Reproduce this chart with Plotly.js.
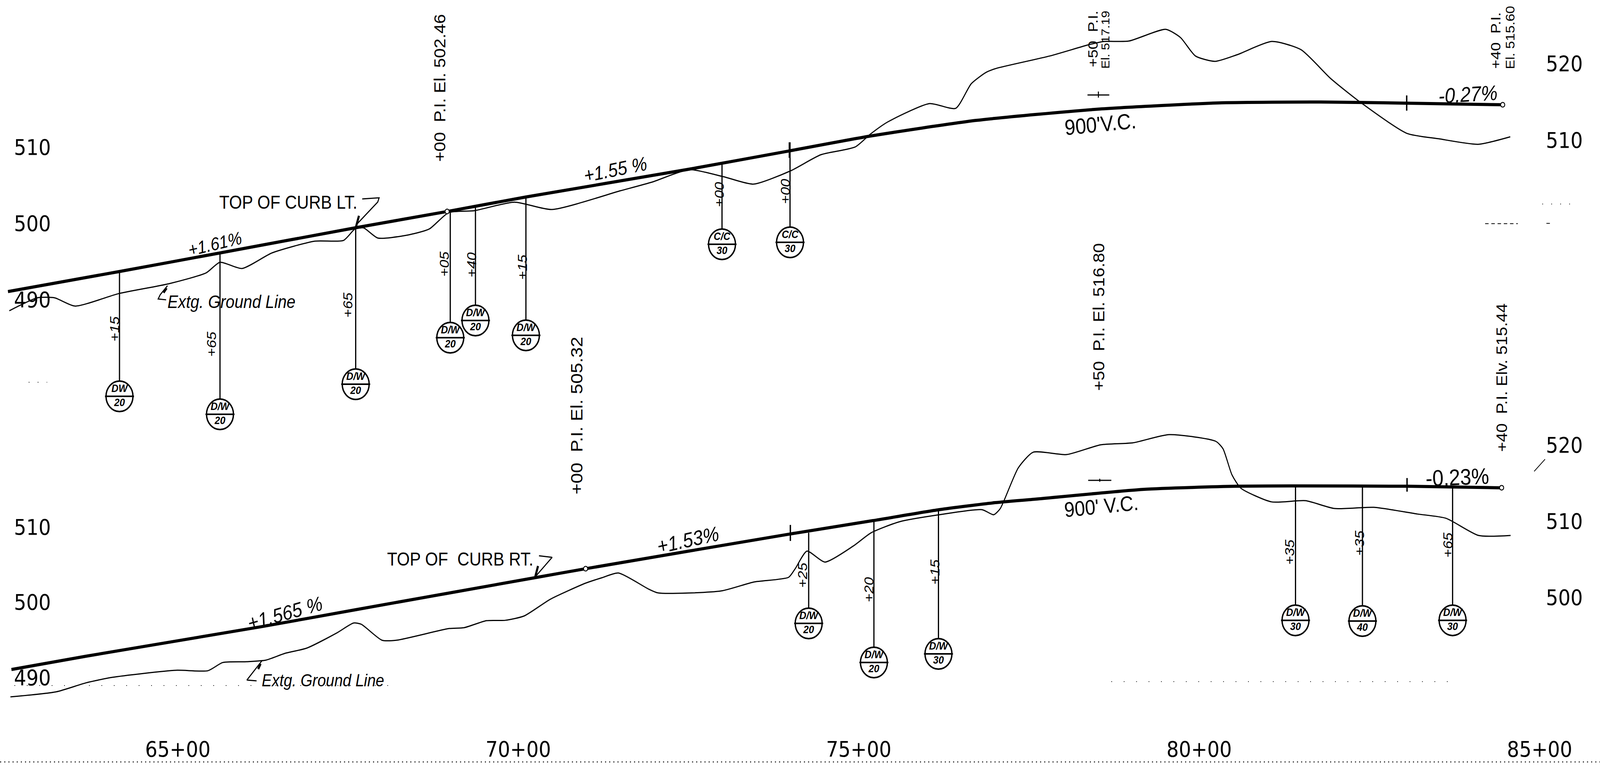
<!DOCTYPE html>
<html>
<head>
<meta charset="utf-8">
<script src="https://cdn.plot.ly/plotly-3.0.1.min.js"></script>
<style>html,body{margin:0;padding:0;background:#fff;overflow:hidden}#chart{width:4634px;height:1965px;transform-origin:0 0}</style>
</head>
<body>
<div id="chart"></div>
<script>
// Stations are in hundreds of feet (65 = 65+00); elevations in feet.
const stationTicks = [65, 70, 75, 80, 85];
const stationLabels = ['65+00', '70+00', '75+00', '80+00', '85+00'];
const leftElevTicks = [490, 500, 510];
const rightTopTicks = [510, 520];
const rightBottomTicks = [500, 510, 520];

// TOP OF CURB LT.
const gradeLtS = [62.505,64.133,65.624,67.601,68.955,70.112,72.470,73.981,75.172,76.724,78.535,80.340,81.785,83.048,84.458];
const gradeLtE = [491.05,493.67,496.13,499.41,501.56,503.46,507.05,509.51,511.46,513.51,515.0,515.82,515.92,515.77,515.56];
const groundLtS = [62.525,62.936,63.190,63.489,64.133,64.868,65.416,65.619,65.943,66.384,67.013,67.434,67.601,67.728,67.936,68.357,68.692,68.976,69.356,69.944,70.492,71.501,71.963,72.510,73.012,73.453,74.001,74.442,74.949,75.172,75.426,76.040,76.425,76.653,76.871,77.018,77.809,78.387,78.606,78.966,79.508,79.726,79.944,80.233,80.558,81.065,81.496,81.932,82.363,83.048,83.519,84.097,84.569];
const groundLtE = [488.54,490.23,490.23,489.15,490.79,492.08,493.51,494.90,494.08,496.13,497.67,497.77,499.26,499.41,498.08,498.44,499.26,501.41,501.67,502.79,501.82,504.28,505.41,507.05,506.13,505.15,506.90,509.0,510.03,511.72,513.31,515.72,515.10,518.33,519.82,520.33,521.97,523.46,523.87,523.92,525.46,524.38,521.97,521.26,522.13,523.87,522.79,519.0,515.92,511.82,511.10,510.38,511.36];

// TOP OF CURB RT.
const gradeRtS = [62.556,63.651,66.237,67.612,70.248,70.989,73.996,75.208,76.182,77.003,77.602,79.189,80.563,81.405,83.043,84.442];
const gradeRtE = [491.04,492.81,496.75,498.99,503.25,504.44,509.06,510.83,512.29,513.22,513.69,514.99,515.40,515.45,515.40,515.19];
const groundRtS = [62.541,63.215,63.651,64.037,64.970,65.441,65.659,66.014,66.293,66.567,66.897,67.338,67.581,67.693,67.997,68.215,68.986,69.204,69.533,69.807,70.086,70.472,70.989,71.232,71.471,71.912,72.054,72.977,73.463,73.971,74.067,74.239,74.503,74.919,75.183,75.598,76.182,76.810,76.983,77.079,77.343,77.561,78.053,78.555,79.026,79.559,80.243,80.350,80.482,80.613,81.065,81.562,81.988,82.566,83.205,83.626,84.103,84.574];
const groundRtE = [487.40,488.08,489.27,490.0,490.94,490.88,491.97,492.08,492.29,493.17,493.90,495.92,497.22,497.06,494.94,494.94,496.49,496.60,497.53,497.58,498.16,500.39,502.52,503.25,503.87,501.74,501.22,501.48,502.68,503.30,504.44,506.78,505.32,507.45,509.22,510.68,511.61,512.29,511.61,512.44,517.84,519.92,519.61,520.91,521.17,522.26,521.38,520.39,516.91,515.14,513.32,513.48,512.44,512.60,511.71,511.14,508.86,508.86];

// Drainage structure tags
const tagLtS = [64.143,65.619,67.612,69.001,69.371,70.112,72.992,73.991];
const tagLtE = [477.31,474.95,478.90,485.0,487.26,485.31,497.26,497.51];
const tagLtTop = [493.67,496.13,499.41,501.56,502.13,503.46,508.03,510.64];
const tagLtText = ['DW<br>20','D/W<br>20','D/W<br>20','D/W<br>20','D/W<br>20','D/W<br>20','C/C<br>30','C/C<br>30'];
const tagRtS = [74.265,75.223,76.171,81.415,82.398,83.722];
const tagRtE = [497.17,491.97,493.12,497.58,497.48,497.58];
const tagRtTop = [509.22,510.83,512.29,515.45,515.45,515.30];
const tagRtText = ['D/W<br>20','D/W<br>20','D/W<br>30','D/W<br>30','D/W<br>40','D/W<br>30'];

// Grade break ticks, vertical curve points
const tickLtS = [73.981,73.981,null,83.048,83.048];
const tickLtE = [510.64,508.6,null,516.79,514.79];
const tickRtS = [73.996,73.996,null,83.053,83.053];
const tickRtE = [510.26,508.13,null,516.49,514.68];
const pviLtS = [78.36,78.68,null,78.52,78.52];
const pviLtE = [516.85,516.85,null,516.5,517.3];
const pviRtS = [78.37,78.71,null,78.54,78.54];
const pviRtE = [516.18,516.18,null,516.0,516.4];
const bvcLtS = [68.955]; const bvcLtE = [501.56];
const bvcRtS = [70.989]; const bvcRtE = [504.44];
const evcTopS = [84.458]; const evcTopE = [514.59];
const evcBotS = [84.442]; const evcBotE = [514.36];

// Callouts
const calloutLtS = [67.708,67.956,67.936,67.622,null,64.848,64.741,64.711,64.828];
const calloutLtE = [503.21,503.36,502.80,499.83,null,491.82,490.64,490.08,489.97];
const calloutRtS = [70.304,70.497,70.248,null,66.237,66.014,66.156];
const calloutRtE = [506.16,505.95,503.35,null,492.23,489.64,489.53];
const arrowLtS = [67.66,67.615,null,64.835,64.79];
const arrowLtE = [501.0,499.5,null,491.5,490.9];
const arrowRtS = [70.29,70.25,null,66.215,66.18];
const arrowRtE = [504.8,503.4,null,491.8,491.1];

// Scan specks
const speckBaseS = [62.39,85.89]; const speckBaseE = [0.9,0.9];
const speckRowS = [62.6,68.2,null,78.71,83.73]; const speckRowE = [488.91,488.91,null,489.43,489.43];
const speckTopS = [62.81,63.08,null,85.04,85.47]; const speckTopE = [479.15,479.15,null,502.54,502.54];
const dashTopS = [84.20,84.68,null,85.10,85.18]; const dashTopE = [499.97,499.97,null,500.0,500.0];
const slashS = [84.92,85.08]; const slashE = [517.38,518.99];

const INK = '#000';
function line(x,y,yaxis,width,extra){
  return Object.assign({type:'scatter',mode:'lines',x,y,yaxis,hoverinfo:'skip',showlegend:false,
    line:{color:INK,width}},extra||{});
}
function leaders(s,top,bot){
  const xs=[],ys=[];
  s.forEach((v,i)=>{xs.push(v,v,null);ys.push(top[i],bot[i],null);});
  return [xs,ys];
}
function tags(s,e,txt,yaxis){
  return [{type:'scatter',mode:'markers',x:s,y:e,yaxis,hoverinfo:'skip',showlegend:false,
      marker:{symbol:'circle',size:78,color:'#fff',line:{color:INK,width:4}}},
    {type:'scatter',mode:'markers+text',x:s,y:e,yaxis,hoverinfo:'skip',showlegend:false,text:txt,
      textposition:'middle center',textfont:{family:'Liberation Sans',size:28,color:INK,style:'italic',weight:700},
      marker:{symbol:'line-ew',size:60,color:INK,line:{color:INK,width:4}}}];
}
function smooth(x,y,yaxis,width){
  const t=line(x,y,yaxis,width); t.line.shape='spline'; t.line.smoothing=0.6; return t;
}
const [ltX,ltY]=leaders(tagLtS,tagLtTop,tagLtE);
const [rtX,rtY]=leaders(tagRtS,tagRtTop,tagRtE);
const endMarker=(x,y,yaxis)=>({type:'scatter',mode:'markers',x,y,yaxis,hoverinfo:'skip',showlegend:false,
  marker:{symbol:'circle',size:12,color:'#fff',line:{color:INK,width:2.5}}});

const data=[
  line(speckBaseS,speckBaseE,'y5',2.5,{line:{color:INK,width:2.5,dash:'3px,9px'}}),
  line(speckRowS,speckRowE,'y3',2,{line:{color:INK,width:2,dash:'2px,34px'}}),
  line(speckTopS,speckTopE,'y',2,{line:{color:INK,width:2,dash:'2px,24px'}}),
  line(dashTopS,dashTopE,'y',2,{line:{color:INK,width:2,dash:'10px,8px'}}),
  line(slashS,slashE,'y3',2),
  line(ltX,ltY,'y',3.5),
  line(rtX,rtY,'y3',3.5),
  smooth(groundLtS,groundLtE,'y',3),
  smooth(groundRtS,groundRtE,'y3',3),
  smooth(gradeLtS,gradeLtE,'y',8),
  smooth(gradeRtS,gradeRtE,'y3',8),
  line(tickLtS,tickLtE,'y',4),
  line(tickRtS,tickRtE,'y3',4),
  line(pviLtS,pviLtE,'y',3),
  line(pviRtS,pviRtE,'y3',3),
  line(calloutLtS,calloutLtE,'y',3),
  line(calloutRtS,calloutRtE,'y3',3),
  line(arrowLtS,arrowLtE,'y',6),
  line(arrowRtS,arrowRtE,'y3',6),
  endMarker(bvcLtS,bvcLtE,'y'),
  endMarker(bvcRtS,bvcRtE,'y3'),
  endMarker(evcTopS,evcTopE,'y2'),
  endMarker(evcBotS,evcBotE,'y4'),
  ...tags(tagLtS,tagLtE,tagLtText,'y'),
  ...tags(tagRtS,tagRtE,tagRtText,'y3')
];

// Lettering placed on the sheet: [centre x px, centre y px, text, angle, size, italic?]
const FONT='Liberation Sans';
const lettering=[
  [1275,225,'+00  P.I. El. 502.46',-90,45,0],
  [1670,1064,'+00  P.I. El. 505.32',-90,48,0],
  [3183,811,'+50  P.I. El. 516.80',-90,45,0],
  [4350,966,'+40  P.I. Elv. 515.44',-90,43,0],
  [3165,100,'+50  P.I.',-90,40,0],
  [3201,102,'El. 517.19',-90,33,0],
  [4331,104,'+40  P.I.',-90,40,0],
  [4374,96,'El. 515.60',-90,36,0],
  [835,517,'TOP OF CURB LT.',0,48,0],
  [1333,1430,'TOP OF  CURB RT.',0,48,0],
  [670,772,"Extg. Ground Line",0,46,1],
  [935,1740,"Extg. Ground Line",0,44,1],
  [622,624,'+1.61%',-12,46,1],
  [1782,434,'+1.55 %',-10,50,1],
  [4251,241,'-0.27%',-3,54,1],
  [3187,317,"900'V.C.",-5,56,0],
  [826,1569,'+1.565 %',-14,52,1],
  [1992,1381,'+1.53%',-11,53,1],
  [3189,1295,"900' V.C.",-5,54,0],
  [4221,1220,'-0.23%',-2,58,0],
  [332,842,'+15',-90,38,1],
  [613,881,'+65',-90,38,1],
  [1007,781,'+65',-90,38,1],
  [1287,676,'+05',-90,38,1],
  [1366,678,'+40',-90,38,1],
  [1513,684,'+15',-90,38,1],
  [2083,498,'+00',-90,38,1],
  [2275,490,'+00',-90,38,1],
  [2324,1472,'+25',-90,38,1],
  [2517,1509,'+20',-90,38,1],
  [2708,1464,'+15',-90,38,1],
  [3735,1413,'+35',-90,38,1],
  [3938,1390,'+35',-90,38,1],
  [4193,1395,'+65',-90,38,1]
];
const annotations=lettering.map(([px,py,t,a,sz,it])=>({
  xref:'paper',yref:'paper',x:px/4634,y:1-py/1965,xanchor:'center',yanchor:'middle',
  text:t,textangle:a,showarrow:false,font:{family:FONT,size:sz,color:INK,style:it?'italic':'normal'}
}));

const tickFont={family:'DejaVu Sans',size:56,color:INK};
function elevAxis(range,vals,pos,over){
  const a={range,domain:[0,1],anchor:'free',position:pos,side:'right',tickmode:'array',tickvals:vals,
    ticktext:vals.map(String),ticks:'',showgrid:false,zeroline:false,
    showline:false,tickfont:tickFont,fixedrange:true};
  if(over) a.overlaying='y';
  return a;
}
const layout={
  width:4634,height:1965,margin:{l:0,r:0,t:0,b:0,pad:0},
  paper_bgcolor:'#fff',plot_bgcolor:'rgba(0,0,0,0)',showlegend:false,font:{family:FONT,color:INK},
  xaxis:{range:[62.388,85.887],domain:[0,1],anchor:'y5',side:'top',tickmode:'array',
    tickvals:stationTicks,ticktext:stationLabels,ticks:'',showgrid:false,
    zeroline:false,showline:false,tickfont:tickFont,fixedrange:true},
  yaxis:elevAxis([428.54,529.31],leftElevTicks,0.0085,false),
  yaxis2:elevAxis([428.0,528.27],rightTopTicks,0.966,true),
  yaxis3:elevAxis([477.95,580.03],leftElevTicks,0.0085,true),
  yaxis4:elevAxis([477.59,578.36],rightBottomTicks,0.966,true),
  yaxis5:{range:[0,1],domain:[0,0.0087],anchor:'free',position:0,showticklabels:false,ticks:'',showgrid:false,zeroline:false,showline:false,fixedrange:true},
  annotations
};
// The browser window can be narrower than the sheet: fit the whole sheet to it.
const chart=document.getElementById('chart');
chart.style.transform='scale('+Math.min(1,window.innerWidth/4634)+','+Math.min(1,window.innerHeight/1965)+')';
Plotly.newPlot('chart',data,layout,{staticPlot:true,displayModeBar:false});
</script>
</body>
</html>
